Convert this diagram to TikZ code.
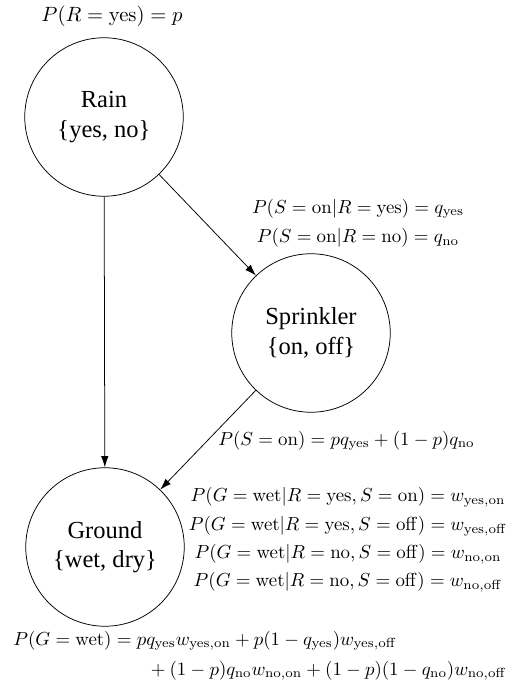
\documentclass[tikz,border=0pt]{standalone}
\usepackage{amsmath}
\usepackage[no-math]{fontspec}
\newfontfamily\nodefont{Liberation Serif}
\usetikzlibrary{arrows.meta}
\begin{document}
\begin{tikzpicture}[x=0.53pt,y=-0.53pt,
  var/.style={draw,circle,thin,inner sep=0pt,minimum size=84pt,align=center,
    font=\nodefont\fontsize{13}{15.6}\selectfont},
  lab/.style={inner sep=0pt,align=center,font=\fontsize{10}{15}\selectfont},
  arr/.style={-{Latex[length=6pt,width=4pt]},thin}]
\useasboundingbox (0,0) rectangle (520,690);
\node[var] (rain) at (104,117) {Rain\\\{yes, no\}};
\node[var] (spr) at (311,333) {Sprinkler\\\{on, off\}};
\node[var] (gnd) at (105,547) {Ground\\\{wet, dry\}};
\node[lab,anchor=base,font=\fontsize{11}{15}\selectfont] (lr) at (112,22) {$P(R=\mathrm{yes})=p$};
\node[lab,font=\fontsize{10.25}{15.5}\selectfont] (ls) at (358,223) {$P(S=\mathrm{on}|R=\mathrm{yes})=q_{\mathrm{yes}}$\\$P(S=\mathrm{on}|R=\mathrm{no})=q_{\mathrm{no}}$};
\node[lab,anchor=base west,font=\fontsize{9.8}{14}\selectfont] (lso) at (218,445) {$P(S=\mathrm{on})=pq_{\mathrm{yes}}+(1-p)q_{\mathrm{no}}$};
\node[lab] (lg) at (348,540) {$P(G=\mathrm{wet}|R=\mathrm{yes},S=\mathrm{on})=w_{\mathrm{yes,on}}$\\$P(G=\mathrm{wet}|R=\mathrm{yes},S=\mathrm{off})=w_{\mathrm{yes,off}}$\\$P(G=\mathrm{wet}|R=\mathrm{no},S=\mathrm{off})=w_{\mathrm{no,on}}$\\$P(G=\mathrm{wet}|R=\mathrm{no},S=\mathrm{off})=w_{\mathrm{no,off}}$};
\node[lab,anchor=base west] (lw1) at (13,645) {$P(G=\mathrm{wet})=pq_{\mathrm{yes}}w_{\mathrm{yes,on}}+p(1-q_{\mathrm{yes}})w_{\mathrm{yes,off}}$};
\node[lab,anchor=base east] (lw2) at (507,675) {${}+(1-p)q_{\mathrm{no}}w_{\mathrm{no,on}}+(1-p)(1-q_{\mathrm{no}})w_{\mathrm{no,off}}$};
\draw[arr] (rain) -- (gnd);
\draw[arr] (rain) -- (spr);
\draw[arr] (spr) -- (gnd);
\end{tikzpicture}
\end{document}
